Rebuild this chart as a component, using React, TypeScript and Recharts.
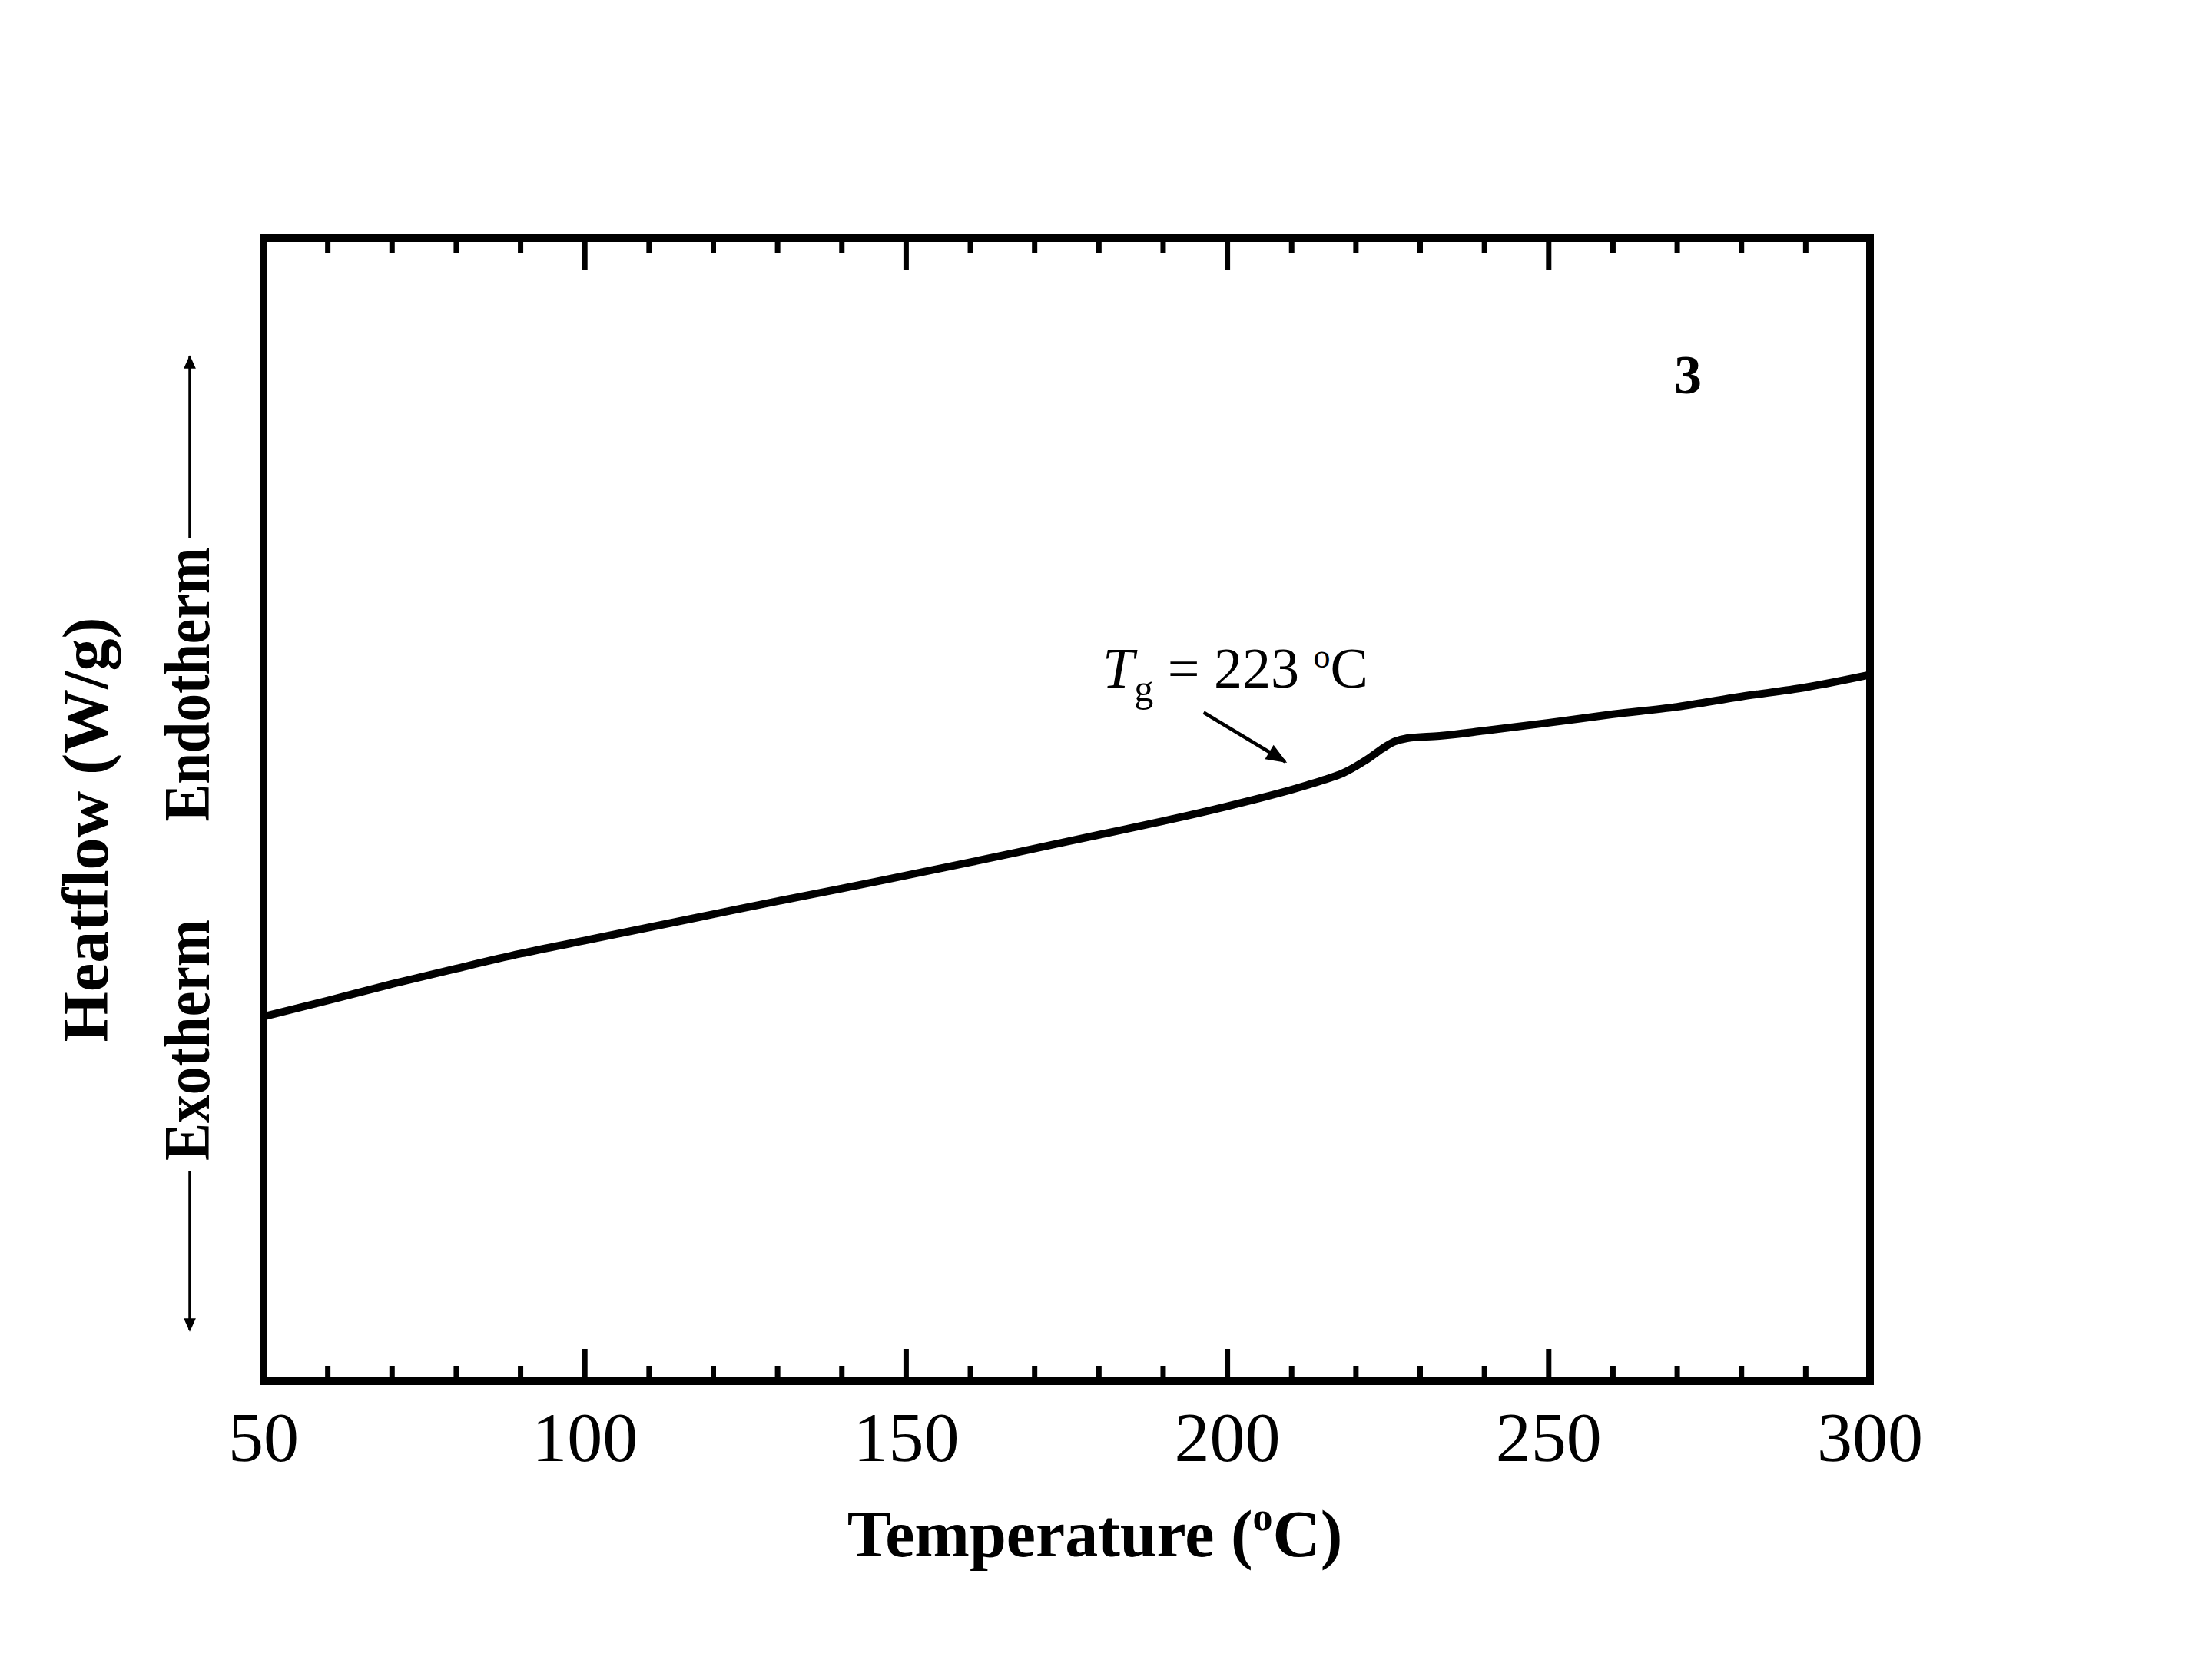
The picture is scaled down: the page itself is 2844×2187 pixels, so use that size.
import { LineChart, Line, XAxis, YAxis, ReferenceLine } from 'recharts';

const temperature = [50, 60, 70, 80, 90, 100, 110, 120, 130, 140, 150, 160, 170, 180, 190, 200, 205, 210, 215, 218, 220, 222, 224, 226, 228, 233, 240, 250, 260, 270, 280, 290, 300];
const heatflow = [31.9, 33.3, 34.75, 36.1, 37.4, 38.55, 39.7, 40.85, 42.0, 43.1, 44.25, 45.4, 46.6, 47.8, 49.0, 50.3, 51.0, 51.75, 52.6, 53.2, 53.8, 54.5, 55.3, 55.95, 56.25, 56.45, 56.9, 57.6, 58.35, 59.0, 59.9, 60.7, 61.8];
const xTicks = [50, 60, 70, 80, 90, 100, 110, 120, 130, 140, 150, 160, 170, 180, 190, 200, 210, 220, 230, 240, 250, 260, 270, 280, 290, 300];
const majorTicks = [50, 100, 150, 200, 250, 300];
// annotation arrow for Tg, in data units
const tgArrow = [
  { x: 196.3, y: 58.5 },
  { x: 209.0, y: 54.2 },
];

const data = temperature.map((t, i) => ({ t, h: heatflow[i] }));

const W = 2844;
const H = 2187;
const FONT = '"Liberation Serif", "Times New Roman", serif';

const BottomTick = (props: any) => {
  const { x, y, payload } = props;
  const major = majorTicks.includes(payload.value);
  return (
    <g>
      <line x1={x} x2={x} y1={y} y2={y - (major ? 42 : 20)} stroke="#000" strokeWidth={7} />
      {major && (
        <text x={x} y={y + 104} textAnchor="middle" fontFamily={FONT} fontSize={92} fill="#000">
          {payload.value}
        </text>
      )}
    </g>
  );
};

const TopTick = (props: any) => {
  const { x, y, payload } = props;
  const major = majorTicks.includes(payload.value);
  return <line x1={x} x2={x} y1={y} y2={y + (major ? 42 : 20)} stroke="#000" strokeWidth={7} />;
};

const ArrowShape = (props: any) => {
  const { x1, y1, x2, y2 } = props;
  return (
    <g>
      <defs>
        <marker id="tgHead" viewBox="0 0 10 10" refX="9" refY="5" markerWidth="9" markerHeight="6" orient="auto" markerUnits="strokeWidth">
          <path d="M0,1 L10,5 L0,9 z" fill="#000" />
        </marker>
      </defs>
      <line x1={x1} y1={y1} x2={x2} y2={y2} stroke="#000" strokeWidth={4.5} markerEnd="url(#tgHead)" />
    </g>
  );
};

const frame = { stroke: '#000', strokeWidth: 10, strokeLinecap: 'square' as const };

export default function App() {
  return (
    <div style={{ position: 'absolute', left: 0, top: 0, width: W, height: H, background: '#fff' }}>
      <LineChart width={W} height={H} data={data} margin={{ top: 250, right: 350, bottom: 329, left: 283 }}>
        <XAxis
          dataKey="t"
          type="number"
          domain={[50, 300]}
          ticks={xTicks}
          interval={0}
          height={60}
          tickSize={0}
          tickMargin={0}
          axisLine={frame}
          tick={<BottomTick />}
        />
        <XAxis
          xAxisId="top"
          orientation="top"
          dataKey="t"
          type="number"
          domain={[50, 300]}
          ticks={xTicks}
          interval={0}
          height={60}
          tickSize={0}
          tickMargin={0}
          axisLine={frame}
          tick={<TopTick />}
        />
        <YAxis type="number" domain={[0, 100]} width={60} tick={false} tickLine={false} axisLine={frame} />
        <YAxis yAxisId="right" orientation="right" type="number" domain={[0, 100]} width={60} tick={false} tickLine={false} axisLine={frame} />
        <ReferenceLine segment={tgArrow} shape={<ArrowShape />} ifOverflow="visible" />
        <Line type="monotone" dataKey="h" stroke="#000" strokeWidth={10} dot={false} isAnimationActive={false} />
      </LineChart>
      <svg width={W} height={H} style={{ position: 'absolute', left: 0, top: 0, pointerEvents: 'none' }}>
        <defs>
          <marker id="sideHead" viewBox="0 0 10 10" refX="9" refY="5" markerWidth="7" markerHeight="5" orient="auto" markerUnits="strokeWidth">
            <path d="M0,0.5 L10,5 L0,9.5 z" fill="#000" />
          </marker>
        </defs>
        <text x={1425} y={2026} textAnchor="middle" fontFamily={FONT} fontSize={86} fontWeight="bold" fill="#000">
          Temperature (<tspan fontSize={52} dy={-34}>o</tspan>
          <tspan dy={34}>C)</tspan>
        </text>
        <text
          transform="translate(111,1080) rotate(-90)"
          textAnchor="middle"
          dominantBaseline="central"
          fontFamily={FONT}
          fontSize={84}
          fontWeight="bold"
          fill="#000"
        >
          Heatflow (W/g)
        </text>
        <text
          transform="translate(243,891) rotate(-90)"
          textAnchor="middle"
          dominantBaseline="central"
          fontFamily={FONT}
          fontSize={84}
          fontWeight="bold"
          textLength={357}
          lengthAdjust="spacingAndGlyphs"
          fill="#000"
        >
          Endotherm
        </text>
        <text
          transform="translate(243,1354) rotate(-90)"
          textAnchor="middle"
          dominantBaseline="central"
          fontFamily={FONT}
          fontSize={84}
          fontWeight="bold"
          textLength={314}
          lengthAdjust="spacingAndGlyphs"
          fill="#000"
        >
          Exotherm
        </text>
        <line x1={247} y1={700} x2={247} y2={464} stroke="#000" strokeWidth={3.5} markerEnd="url(#sideHead)" />
        <line x1={247} y1={1524} x2={247} y2={1732} stroke="#000" strokeWidth={3.5} markerEnd="url(#sideHead)" />
        <text x={2197} y={512} textAnchor="middle" fontFamily={FONT} fontSize={72} fontWeight="bold" fill="#000">
          3
        </text>
        <text x={1435} y={895} fontFamily={FONT} fontSize={74} fill="#000">
          <tspan fontStyle="italic">T</tspan>
          <tspan fontSize={50} dy={18}>g</tspan>
          <tspan dy={-18}> = 223 </tspan>
          <tspan fontSize={44} dy={-26}>o</tspan>
          <tspan dy={26}>C</tspan>
        </text>
      </svg>
    </div>
  );
}
